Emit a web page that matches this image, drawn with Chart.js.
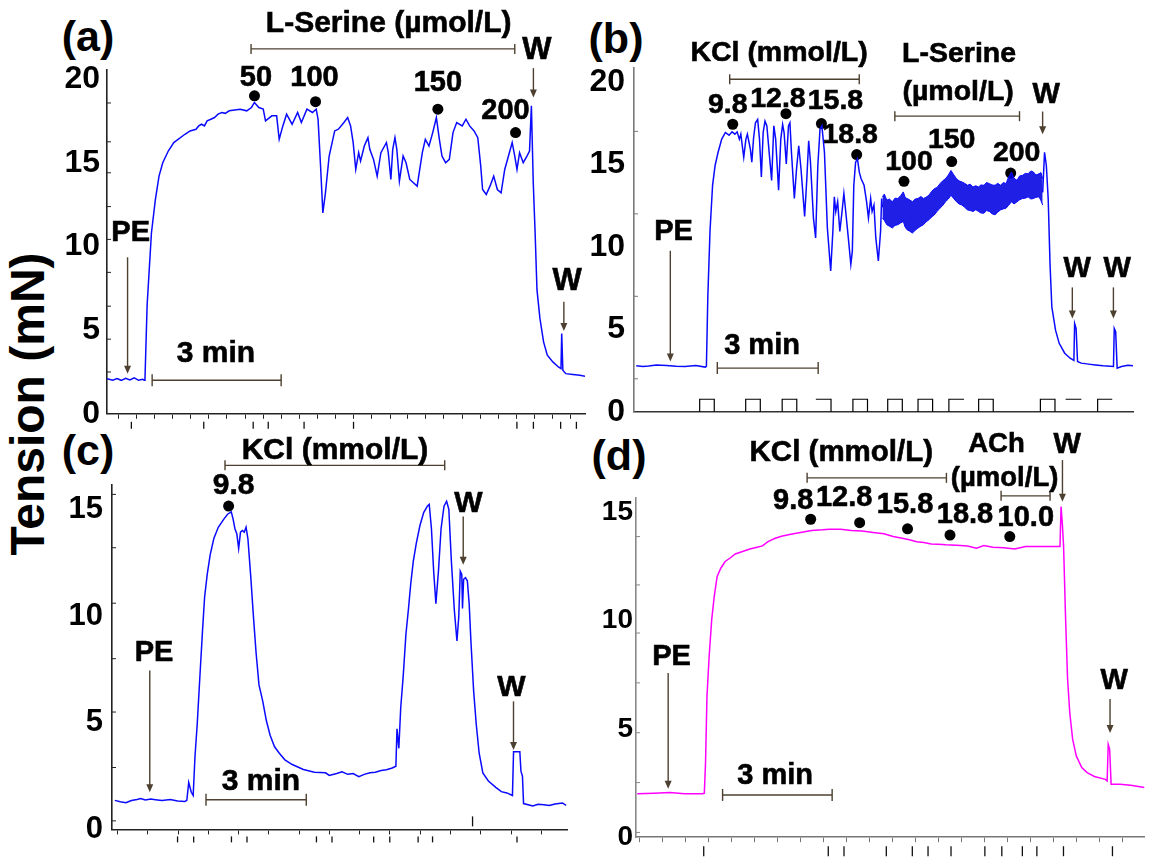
<!DOCTYPE html>
<html>
<head>
<meta charset="utf-8">
<title>Isometric tension recordings</title>
<script src="https://cdn.jsdelivr.net/npm/chart.js@4.4.1/dist/chart.umd.min.js"></script>
<style>
  html, body { margin: 0; padding: 0; background: #fff; }
  body { position: relative; width: 1150px; height: 857px; overflow: hidden;
         font-family: "Liberation Sans", Arial, sans-serif; }
  canvas { position: absolute; }
  .tag { position: absolute; font-weight: bold; font-size: 43px; line-height: 1;
         transform: translate(-50%, -50%); white-space: nowrap; }
  #ytitle { position: absolute; left: 28px; top: 404px; font-weight: bold; font-size: 48px;
            line-height: 1; white-space: nowrap; transform: translate(-50%, -50%) rotate(-90deg); }
</style>
</head>
<body>
<div id="ytitle">Tension (mN)</div>
<div class="tag" style="left:88px;top:36px">(a)</div>
<div class="tag" style="left:616px;top:38px">(b)</div>
<div class="tag" style="left:88px;top:450px">(c)</div>
<div class="tag" style="left:619px;top:455px">(d)</div>

<canvas id="panelA" width="595" height="440" style="left:0;top:0"></canvas>
<canvas id="panelB" width="570" height="440" style="left:580px;top:0"></canvas>
<canvas id="panelC" width="590" height="427" style="left:0;top:430px"></canvas>
<canvas id="panelD" width="570" height="427" style="left:580px;top:430px"></canvas>

<script>
// --- DATA: time (s) , tension (mN) ---
const traceA = [[0,2.1],[8,2.0],[14,2.1],[20,2.0],[26,2.12],[32,2.02],[38,2.15],[44,2.0],[50,2.06],[52,2.0],[53,2.1],[56,6.5],[62,10.8],[67.5,12.8],[72.6,14.2],[77.8,15.0],[85.5,15.7],[93.2,16.2],[108.7,16.7],[116,16.9],[124.2,17.0],[128,17.2],[132,17.3],[136,17.2],[139.7,17.5],[145,17.6],[150,17.7],[155,17.9],[160.3,18.0],[165,17.95],[170.6,18.1],[178,18.15],[186,18.2],[195,18.1],[201.6,18.3],[205.7,18.6],[211.9,18.3],[218,18.2],[221.2,17.5],[230,17.8],[236.7,17.8],[240.3,16.4],[245.4,17.2],[250.6,17.9],[258.3,17.3],[266,18.0],[271.2,17.4],[279,18.2],[286.7,18.0],[291.9,18.2],[294.5,17.6],[298,14.8],[301.2,12.0],[304.8,13.2],[310,15.4],[317.7,16.9],[322.9,17.0],[330.6,17.4],[335.8,17.7],[339.9,17.2],[343.5,16.2],[347.1,14.6],[351.2,15.6],[353.8,15.1],[359,16.0],[364.1,16.5],[366.7,15.8],[371.9,15.2],[377,14.2],[382.2,15.6],[387.3,16.0],[389.9,16.2],[392.5,15.6],[396.1,14.0],[398.7,15.8],[401.8,16.5],[404.4,15.8],[408,13.9],[413.2,15.4],[417.3,15.0],[422.5,14.0],[427.6,13.8],[432.8,13.6],[436.4,14.6],[440,15.6],[444.2,16.4],[449.3,16.0],[454.5,16.8],[459.6,17.7],[463.8,16.4],[467.4,15.4],[472.5,15.0],[477.7,15.2],[482.8,16.8],[488,17.4],[495.7,17.2],[500.9,17.6],[506,17.2],[512.2,16.9],[517.4,16.5],[521.5,14.8],[524.1,13.4],[529.2,13.1],[534.4,13.6],[539.6,14.2],[544.7,13.4],[549.9,13.2],[555,14.6],[560.2,15.4],[565.4,16.2],[569,15.4],[572.1,14.6],[575.7,15.6],[580.8,15.0],[586,15.4],[589.6,15.7],[592.2,18.4],[594.8,13.8],[597.4,10.8],[600,7.4],[604.1,5.7],[609.2,4.3],[614.4,3.5],[622.1,3.1],[629.9,2.8],[633.5,2.7],[634.5,4.8],[636.1,2.6],[640.2,2.4],[650,2.35],[659.8,2.3],[667,2.25]];
const doseTimeA = [205.8, 291, 461.7, 570.1];
const doseLevelA = [19.0, 18.65, 18.2, 16.8];
const doseLabelA = ['50', '100', '150', '200'];

const traceB = [[4,2.79],[16,2.74],[26,2.77],[40,2.83],[58,2.81],[75,2.76],[91,2.75],[110,2.8],[127,2.71],[129,2.75],[131.5,6.95],[135.4,10.94],[140,13.73],[144.5,14.93],[149.8,15.73],[156.3,16.53],[162.8,16.93],[169.4,16.77],[174.6,16.97],[179.8,16.83],[183.7,16.97],[187.7,16.53],[190.3,16.83],[195.5,15.43],[199.4,16.53],[202,16.83],[207.3,15.93],[209.9,15.13],[213.1,16.63],[216.4,17.52],[220.3,17.72],[223.6,16.53],[226.9,14.23],[230.1,16.93],[233.4,17.62],[236.7,17.33],[241.3,15.53],[245.2,14.03],[249.1,17.33],[252.4,16.53],[257.6,13.43],[261.5,16.53],[264.8,17.42],[267.4,16.93],[271.3,15.03],[275.2,17.33],[277.8,17.52],[280.5,15.73],[285.7,12.93],[289.6,14.73],[293.5,16.13],[297.5,14.73],[304,11.84],[307.9,14.13],[311.2,16.43],[314.4,15.13],[319.7,11.74],[323.6,10.54],[327.5,14.93],[331.4,17.13],[334.7,17.33],[339.3,15.73],[344.5,11.14],[350.4,8.54],[354.3,10.94],[356.9,13.03],[359.5,12.14],[362.8,12.73],[366.7,10.94],[370,11.94],[373.9,13.23],[377.2,12.14],[381.8,10.54],[386.3,8.94],[389,9.74],[391.6,13.73],[394.8,15.13],[398.1,15.33],[401.4,14.53],[404.6,14.13],[409.9,13.73],[414.4,12.73],[417.7,11.74],[421.6,12.93],[424.2,12.14],[427.5,12.53],[430.8,10.54],[435.3,9.14],[439.3,10.94],[441.2,12.93],[442.5,12.4],[443,null],[728.1,13.3],[731.4,15.73],[734.6,14.93],[737.9,12.93],[741.2,8.94],[744.4,6.35],[751,4.95],[757.5,4.15],[767.3,3.55],[777.1,3.25],[783.7,3.11],[785,5.35],[787.6,5.05],[790.2,3.05],[796.7,2.95],[809.8,2.89],[822,2.84],[835.9,2.79],[854.2,2.75],[855.6,5.05],[858.1,4.85],[860.8,2.65],[868.6,2.75],[880,2.82],[889,2.79]];
// envelope of the fast oscillation during L-Serine
const bandTimeB  = [442.5,446,450.4,455,460.2,465,470,475,479.8,483,486.3,491,496.1,501,505.9,511,515.7,520,525.5,530,535.3,540,545.1,550,554.9,560,564.7,569,574.5,579,584.3,589,594.1,599,603.9,609,613.8,618,623.6,628,633.4,638,643.2,648,653,658,662.8,667,672.6,677,682.4,687,692.2,697,702,707,711.8,716,721.6,725,728.1];
const bandUpperB = [13.03,13.2,12.83,12.9,12.73,12.95,12.93,13.1,13.33,13.0,12.93,12.85,12.73,12.9,12.93,13.05,12.93,13.0,13.13,13.35,13.53,13.6,13.83,14.0,14.13,14.35,14.63,14.4,14.13,14.0,13.93,13.85,13.73,13.8,13.63,13.7,13.63,13.75,13.73,13.9,13.83,13.75,13.73,13.85,13.73,13.9,13.83,14.2,14.53,14.15,14.03,14.3,14.33,14.45,14.43,14.6,14.53,14.35,14.43,14.5,14.13];
const bandLowerB = [11.74,11.6,11.34,11.25,11.14,11.3,11.34,11.45,11.54,11.2,11.04,10.95,10.84,11.0,11.14,11.25,11.34,11.5,11.64,11.8,11.94,12.15,12.34,12.5,12.73,12.9,13.13,12.95,12.73,12.6,12.53,12.4,12.24,12.2,12.14,12.25,12.14,12.05,12.04,12.2,12.14,12.0,11.94,12.1,12.24,12.3,12.34,12.5,12.73,12.6,12.73,12.85,12.93,12.95,13.03,12.9,12.93,13.0,13.03,12.8,12.53];
const doseTimeB = [175.9, 270.7, 333.9, 396.7, 481, 566, 671.1];
const doseLevelB = [17.43, 18.07, 17.47, 15.59, 13.97, 15.17, 14.47];
const doseLabelB = ['9.8', '12.8', '15.8', '18.8', '100', '150', '200'];
// stimulus marker pulses along the time axis of (b)
const stimOnB  = [117, 199, 264, 324, 390, 452, 506, 561, 614, 724, 769, 826];
const stimOffB = [143, 225, 290, 351, 416, 478, 532, 588, 640, 750, 797, 852];
const stimKindB = ['box','box','box','right','box','box','box','left','box','box','top','left'];
const stimHeightB = 0.76;

const traceC = [[5,1.36],[15,1.3],[25,1.25],[35,1.35],[45,1.4],[51.5,1.45],[60,1.38],[70,1.42],[78,1.39],[90,1.35],[105,1.4],[118,1.33],[131.4,1.31],[134.7,1.36],[138.1,2.20],[142.7,1.74],[146.1,1.59],[149.4,3.42],[153.4,4.94],[158,7.07],[162.7,9.21],[166.7,10.89],[171.4,11.95],[176.7,12.87],[183.3,13.63],[191.3,14.16],[201.3,14.54],[208,14.77],[214.7,14.88],[218,14.54],[221.3,14.09],[224.6,13.86],[228,13.17],[231.3,13.93],[234.6,14.01],[238,13.93],[241.3,14.16],[244.6,13.63],[249.9,11.8],[254.6,9.97],[259.3,8.29],[264.6,6.77],[271.3,6.01],[277.9,5.09],[284.6,4.41],[292.6,3.87],[301.2,3.57],[311.2,3.26],[324.5,3.04],[344.5,2.81],[364.5,2.68],[384.5,2.65],[391.1,2.53],[404.5,2.62],[414,2.7],[424.4,2.58],[434,2.62],[444.4,2.47],[454,2.58],[464.4,2.65],[474,2.68],[484.4,2.76],[494,2.8],[504.4,2.88],[511,2.96],[513,4.71],[516.3,3.80],[519.7,5.70],[524.3,7.23],[529,9.13],[533.7,10.35],[537.7,11.5],[542.3,12.56],[547.7,13.4],[554.3,14.24],[561,14.85],[567.6,15.15],[571,15.23],[575,14.09],[579,12.1],[583,10.58],[587.6,12.1],[592.3,14.09],[597.6,15.15],[602.3,15.38],[606.3,15.0],[610.9,12.56],[616.2,10.28],[620.9,8.83],[624.2,9.97],[626.9,12.1],[629.6,11.95],[630.9,10.35],[632.9,11.72],[636.2,11.8],[639.6,11.65],[642.9,10.58],[646.2,8.75],[651,6.47],[655.6,4.94],[660.9,3.57],[667.5,2.65],[677.5,2.27],[690.8,1.97],[700.8,1.77],[710.8,1.71],[720.8,1.59],[722.8,3.64],[734.1,3.64],[736.1,2.73],[738.8,2.5],[740.8,1.21],[757.4,1.1],[767,1.18],[777.4,1.16],[787,1.12],[797.4,1.19],[810.7,1.24],[817.4,1.13]];
const doseTimeC = [209.9];
const doseLevelC = [15.15];
const doseLabelC = ['9.8'];

const traceD = [[2,2.01],[30,2.03],[56,2.06],[80,2.01],[110,2.01],[113,2.03],[115,3.44],[117.4,6.51],[121,8.35],[125.2,10.04],[129.4,11.11],[134.2,12.03],[140.2,12.41],[147.4,12.72],[155.2,12.87],[164.2,13.07],[176.2,13.18],[188.2,13.3],[200.2,13.38],[209.2,13.44],[218.2,13.64],[230.2,13.79],[242.2,13.9],[260.2,14.0],[272.2,14.06],[290.2,14.15],[308.2,14.18],[320.2,14.21],[338.2,14.21],[356.2,14.15],[374.2,14.13],[392.2,14.06],[410.2,14.0],[425.2,13.87],[440.2,13.79],[452.2,13.72],[464.2,13.63],[476.2,13.6],[488.2,13.53],[500.2,13.52],[512.2,13.49],[530.2,13.47],[548.2,13.44],[563.2,13.33],[575.2,13.46],[590.2,13.38],[608.2,13.35],[626.2,13.3],[644.2,13.41],[668.2,13.41],[692.2,13.41],[701.2,13.41],[703,15.25],[705.4,14.33],[707.2,13.41],[710.2,10.34],[713.8,7.28],[717.4,5.74],[722.2,4.51],[728.2,3.75],[737.2,3.21],[746.2,2.98],[758.2,2.8],[776.2,2.67],[779.2,2.6],[781,4.28],[783.4,4.05],[785.8,2.44],[800.2,2.44],[818.2,2.4],[841,2.29]];
const doseTimeD = [288.9, 369.9, 449.1, 519.3, 618.2];
const doseLevelD = [14.67, 14.51, 14.23, 13.94, 13.87];
const doseLabelD = ['9.8', '12.8', '15.8', '18.8', '10.0'];

// tick marks
const yLabelsAB = [0, 5, 10, 15, 20];
const yLabelsCD = [0, 5, 10, 15];
const yMinorA = [2.5, 4.46, 6.43, 8.45, 10.42, 12.38, 14.4, 16.25, 18.57];
const yMinorB = [2, 7, 12, 17];
const yMinorC = [0.4, 2.9, 5.5, 8.0, 10.6, 13.2, 15.7];
const yMinorD = [0.22, 2.52, 4.82, 7.12, 9.42, 11.64, 13.87];
const xMinorA = [16,41,66,92,117,142,167,193,218,243,268,294,319,344,369,395,420,445,470,496,521,546,571,597,622,647];
const xMinorC = [10,64,119,173,228,282,337,391,446,500,555,610,664,719,773];
const xMinorD = [6,44,82,120,158,196,234,272,310,348,386,424,462,500,538,576,614,652,690,728,766,804];
const eventsA = [34,135,204,225,275,344,572,595,633,655];
const eventsC = [118,147,215,243,368,396,471,500,551,577,729];
const eventsD = [112,318,344,414,457,483,521,577,605,639,663,707,788];

// --- STYLE ---
const FONT = '"Liberation Sans", Arial, sans-serif';
const ARROW = '#4d4030';
const BLUE = '#0a0aff';
const MAGENTA = '#ff00ff';

const toXY = arr => arr.map(([x, y]) => ({ x, y }));

// annotation layer: arrows, brackets, labels, event ticks
const marksPlugin = {
  id: 'marks',
  afterDatasetsDraw(chart, args, o) {
    const ctx = chart.ctx, xs = chart.scales.x, ys = chart.scales.y;
    const X = t => xs.getPixelForValue(t), Y = v => ys.getPixelForValue(v);
    const seg = (x0, y0, x1, y1) => { ctx.beginPath(); ctx.moveTo(x0, y0); ctx.lineTo(x1, y1); ctx.stroke(); };
    const label = (txt, x, y) => { ctx.fillText(txt, x, y); ctx.strokeText(txt, x, y); };
    ctx.save();

    ctx.strokeStyle = o.axisColor; ctx.lineWidth = 1;
    (o.yMinor || []).forEach(v => seg(xs.left, Y(v), xs.left + 4, Y(v)));

    ctx.strokeStyle = '#111'; ctx.lineWidth = 1.3;
    (o.events || []).forEach(t => seg(X(t), ys.bottom + o.evGap, X(t), ys.bottom + o.evGap + o.evLen));
    (o.innerEvents || []).forEach(t => seg(X(t), ys.bottom - 13, X(t), ys.bottom - 3));

    ctx.strokeStyle = ARROW; ctx.fillStyle = ARROW; ctx.lineWidth = 1.4;
    (o.arrows || []).forEach(a => {
      const x = X(a.t), y0 = Y(a.from), y1 = Y(a.to);
      seg(x, y0, x, y1 - 6);
      ctx.beginPath(); ctx.moveTo(x - 3.5, y1 - 8); ctx.lineTo(x + 3.5, y1 - 8); ctx.lineTo(x, y1); ctx.closePath(); ctx.fill();
    });
    (o.brackets || []).forEach(b => {
      const y = Y(b.v), x0 = X(b.from), x1 = X(b.to), c = b.cap || 5;
      seg(x0, y, x1, y); seg(x0, y - c, x0, y + c); seg(x1, y - c, x1, y + c);
    });

    ctx.fillStyle = '#000'; ctx.strokeStyle = '#000'; ctx.lineWidth = 0.6;
    ctx.textAlign = 'center'; ctx.textBaseline = 'middle';
    (o.texts || []).forEach(t => {
      ctx.font = `bold ${t.size || 29}px ${FONT}`;
      label(t.text, X(t.t), Y(t.v));
    });

    chart.data.datasets.forEach((ds, i) => {
      if (!ds.doseLabels) return;
      const pts = chart.getDatasetMeta(i).data;
      ctx.font = `bold ${o.doseSize || 29}px ${FONT}`;
      ds.doseLabels.forEach((lab, j) => {
        const off = o.doseOffsets[j];
        label(lab, pts[j].x + off[0], pts[j].y + off[1]);
      });
    });
    ctx.restore();
  }
};

function traceSet(data, color) {
  return { data: toXY(data), borderColor: color, borderWidth: 1.5, pointRadius: 0, fill: false, tension: 0, spanGaps: false };
}
function doseSet(times, levels, labels) {
  return { data: times.map((t, i) => ({ x: t, y: levels[i] })), doseLabels: labels, showLine: false,
           pointRadius: 5.5, pointBackgroundColor: '#000', pointBorderWidth: 0, borderColor: '#000' };
}

function buildChart(id, g, datasets, marks) {
  return new Chart(document.getElementById(id), {
    type: 'line',
    data: { datasets },
    options: {
      responsive: false,
      animation: false,
      layout: { padding: { top: g.axisTop - g.top, right: g.left + g.w - g.axisRight, left: 0, bottom: 0 } },
      plugins: { legend: { display: false }, tooltip: { enabled: false }, marks },
      scales: {
        x: {
          type: 'linear', min: 0, max: g.xMax,
          afterBuildTicks: ax => { ax.ticks = g.xTicks.map(value => ({ value })); },
          afterFit: ax => { ax.height = g.top + g.h - g.axisBottom; },
          ticks: { display: false, autoSkip: false },
          grid: { display: true, drawOnChartArea: false, drawTicks: g.xTickMarks, tickLength: 5, color: g.xColor, lineWidth: 1 },
          border: { display: true, color: g.xColor, width: 1.6 }
        },
        y: {
          type: 'linear', min: 0, max: g.yMax,
          afterBuildTicks: ax => { ax.ticks = g.yTicks.map(value => ({ value })); },
          afterFit: ax => { ax.width = g.axisX - g.left; },
          ticks: { color: '#000', padding: g.yPad, autoSkip: false, font: { family: FONT, size: g.yFont, weight: 'bold' } },
          grid: { display: true, drawOnChartArea: false, drawTicks: false },
          border: { display: true, color: g.yColor, width: 1.6 }
        }
      }
    },
    plugins: [marksPlugin]
  });
}

// --- stimulus pulses of (b) as a stepped outline ---
function stimulusPoints() {
  const pts = [];
  stimOnB.forEach((on, i) => {
    const off = stimOffB[i], h = stimHeightB, k = stimKindB[i];
    if (k === 'box') pts.push([on, 0], [on, h], [off, h], [off, 0]);
    if (k === 'right') pts.push([on, h], [off, h], [off, 0]);
    if (k === 'left') pts.push([on, 0], [on, h], [off, h]);
    if (k === 'top') pts.push([on, h], [off, h]);
    pts.push([off + 0.1, null]);
  });
  return pts;
}

// (a)
buildChart('panelA',
  { left: 0, top: 0, w: 595, h: 440, axisX: 107, axisTop: 70, axisBottom: 415, axisRight: 585,
    xMax: 667, yMax: 20.54, xTicks: xMinorA, xTickMarks: true, yTicks: yLabelsAB,
    yFont: 32, yPad: 7, xColor: '#222', yColor: '#222' },
  [traceSet(traceA, BLUE), doseSet(doseTimeA, doseLevelA, doseLabelA)],
  { axisColor: '#222', yMinor: yMinorA, events: eventsA, evGap: 8, evLen: 7,
    doseOffsets: [[1.5, -18], [-1, -23.5], [0, -26.5], [-10, -21.5]],
    texts: [
      { text: 'L-Serine (µmol/L)', t: 393, v: 23.3, size: 30 },
      { text: 'W', t: 600, v: 21.7, size: 31 },
      { text: 'PE', t: 33, v: 10.8 },
      { text: 'W', t: 642, v: 7.9, size: 31 },
      { text: '3 min', t: 152, v: 3.6, size: 30 }
    ],
    brackets: [{ from: 201, to: 569, v: 21.8 }, { from: 63, to: 243, v: 2.0, cap: 6 }],
    arrows: [{ t: 595, from: 20.65, to: 18.9 }, { t: 28.7, from: 9.35, to: 2.4 }, { t: 637.5, from: 6.7, to: 4.95 }]
  });

// (b)
buildChart('panelB',
  { left: 580, top: 0, w: 570, h: 440, axisX: 634, axisTop: 68, axisBottom: 416, axisRight: 1133,
    xMax: 889, yMax: 20.84, xTicks: [0], xTickMarks: false, yTicks: yLabelsAB,
    yFont: 32, yPad: 9, xColor: '#333', yColor: '#7a7a7a' },
  [
    traceSet(traceB, BLUE),
    { data: bandTimeB.map((t, i) => ({ x: t, y: bandUpperB[i] })), borderColor: BLUE, borderWidth: 1, pointRadius: 0, fill: false },
    { data: bandTimeB.map((t, i) => ({ x: t, y: bandLowerB[i] })), borderColor: BLUE, borderWidth: 1, pointRadius: 0,
      fill: '-1', backgroundColor: 'rgba(0,0,225,0.88)' },
    { data: toXY(stimulusPoints()), borderColor: '#000', borderWidth: 1.2, pointRadius: 0, fill: false, spanGaps: false, clip: 4 },
    doseSet(doseTimeB, doseLevelB, doseLabelB)
  ],
  { axisColor: '#7a7a7a', yMinor: yMinorB, doseSize: 28.5,
    doseOffsets: [[-5, -19], [-8, -15], [14, -22.5], [-6.5, -19.5], [5, -19.5], [0, -21], [6, -20]],
    texts: [
      { text: 'KCl (mmol/L)', t: 258.4, v: 21.74, size: 28.5 },
      { text: 'L-Serine', t: 579.2, v: 21.68, size: 28.5 },
      { text: '(µmol/L)', t: 577.4, v: 19.4, size: 28.5 },
      { text: 'W', t: 734.2, v: 19.22, size: 29 },
      { text: 'PE', t: 70.4, v: 10.9 },
      { text: '3 min', t: 228.1, v: 4.01 },
      { text: 'W', t: 789.4, v: 8.68, size: 29 },
      { text: 'W', t: 860.7, v: 8.68, size: 29 }
    ],
    brackets: [{ from: 170.5, to: 401.3, v: 20.16 }, { from: 464.7, to: 686.8, v: 17.92 }, { from: 148.4, to: 328.1, v: 2.65, cap: 6 }],
    arrows: [{ t: 728, from: 18.2, to: 16.83 }, { t: 64.7, from: 9.76, to: 3.05 }, { t: 780.9, from: 7.54, to: 5.65 }, { t: 854.1, from: 7.54, to: 5.65 }]
  });

// (c)
buildChart('panelC',
  { left: 0, top: 430, w: 590, h: 427, axisX: 112, axisTop: 485, axisBottom: 838, axisRight: 567,
    xMax: 819, yMax: 16.14, xTicks: xMinorC, xTickMarks: true, yTicks: yLabelsCD,
    yFont: 31, yPad: 9, xColor: '#222', yColor: '#222' },
  [traceSet(traceC, BLUE), doseSet(doseTimeC, doseLevelC, doseLabelC)],
  { axisColor: '#222', yMinor: yMinorC, events: eventsC, evGap: 7, evLen: 6, innerEvents: [649], doseSize: 30,
    doseOffsets: [[5, -20.5]],
    texts: [
      { text: 'KCl (mmol/L)', t: 401.4, v: 17.74, size: 30 },
      { text: 'W', t: 641.7, v: 15.27, size: 30 },
      { text: 'PE', t: 75.6, v: 8.28 },
      { text: '3 min', t: 268.2, v: 2.24, size: 30 },
      { text: 'W', t: 719.1, v: 6.63, size: 30 }
    ],
    brackets: [{ from: 203.4, to: 598.9, v: 17.06 }, { from: 169.2, to: 349.7, v: 1.39, cap: 6 }],
    arrows: [{ t: 632.2, from: 14.66, to: 12.4 }, { t: 68, from: 7.45, to: 1.74 }, { t: 722.7, from: 6.0, to: 3.72 }]
  });

// (d)
buildChart('panelD',
  { left: 580, top: 430, w: 570, h: 427, axisX: 636, axisTop: 498, axisBottom: 838, axisRight: 1150,
    xMax: 841, yMax: 15.65, xTicks: xMinorD, xTickMarks: true, yTicks: yLabelsCD,
    yFont: 28, yPad: 3, xColor: '#777', yColor: '#888' },
  [traceSet(traceD, MAGENTA), doseSet(doseTimeD, doseLevelD, doseLabelD)],
  { axisColor: '#888', yMinor: yMinorD, events: eventsD, evGap: 9, evLen: 10,
    doseOffsets: [[-17.5, -18.5], [-15.5, -24.5], [-2.5, -23.5], [15, -20], [16, -18.5]],
    texts: [
      { text: 'KCl (mmol/L)', t: 339.6, v: 17.72, size: 29.5 },
      { text: 'ACh', t: 596.1, v: 18.13, size: 27.5 },
      { text: '(µmol/L)', t: 609.6, v: 16.57, size: 27.5 },
      { text: 'W', t: 713, v: 18.09 },
      { text: 'PE', t: 58.9, v: 8.33 },
      { text: '3 min', t: 230.2, v: 2.82 },
      { text: 'W', t: 791, v: 7.22 }
    ],
    brackets: [{ from: 283, to: 513.4, v: 16.58 }, { from: 603.8, to: 684.8, v: 15.75 }, { from: 143.2, to: 324.4, v: 1.95, cap: 6 }],
    arrows: [{ t: 705.3, from: 17.4, to: 15.48 }, { t: 53.2, from: 7.58, to: 2.24 }, { t: 784, from: 6.38, to: 4.81 }]
  });
</script>
</body>
</html>
